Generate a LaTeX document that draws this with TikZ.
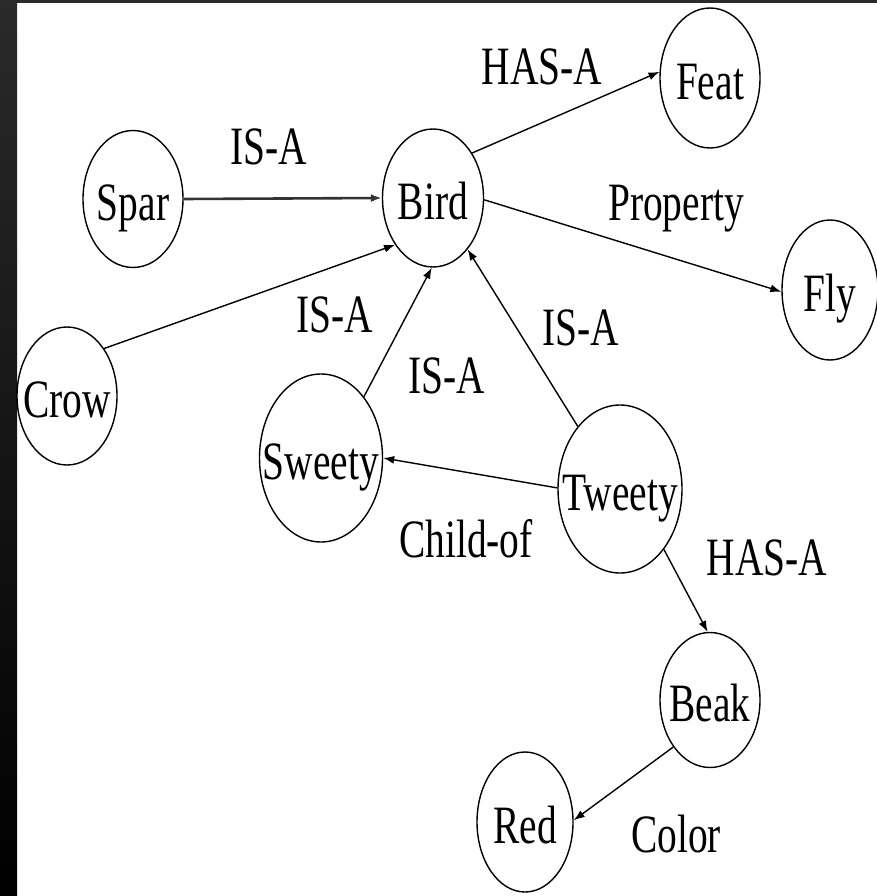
\documentclass[tikz,border=0pt]{standalone}
\usepackage{fontspec}
\usepackage{graphicx}
\setmainfont{Liberation Serif}
\usetikzlibrary{shapes.geometric,arrows.meta}
\newcommand\lbl[1]{\scalebox{0.73}[1]{#1}}
\newcommand\clbl[1]{\raisebox{-21.5pt}[0pt][0pt]{\makebox[0pt]{\scalebox{0.73}[1]{#1}}}}
\definecolor{framedark}{RGB}{42,42,42}
\tikzset{
  concept/.style={draw=black, line width=1.4pt, ellipse, inner sep=0pt,
    font=\fontsize{54}{54}\selectfont},
  rel/.style={draw=black, line width=1.4pt, -{Latex[length=11pt,width=8pt]}},
  rellabel/.style={font=\fontsize{54}{54}\selectfont, inner sep=0pt, anchor=base},
}
\begin{document}
\begin{tikzpicture}[x=1pt,y=-1pt]
\useasboundingbox (0,0) rectangle (877,896);
\fill[white] (0,0) rectangle (877,896);
\shade[top color=framedark, bottom color=black] (0,0) rectangle (17,896);
\fill[framedark] (0,0) rectangle (877,3);

\node[concept, minimum width=100pt, minimum height=137pt] (spar) at (133,199) {\clbl{Spar}};
\node[concept, minimum width=101pt, minimum height=138pt] (bird) at (433,198) {\clbl{Bird}};
\node[concept, minimum width=100pt, minimum height=140pt] (feat) at (710,78) {\clbl{Feat}};
\node[concept, minimum width=96pt, minimum height=140pt] (fly) at (830,290) {\clbl{Fly}};
\node[concept, minimum width=100pt, minimum height=138pt] (crow) at (67,396) {\clbl{Crow}};
\node[concept, minimum width=123pt, minimum height=168pt] (sweety) at (321,458) {\clbl{Sweety}};
\node[concept, minimum width=124pt, minimum height=168pt] (tweety) at (620,489) {\clbl{Tweety}};
\node[concept, minimum width=100pt, minimum height=135pt] (beak) at (710,700) {\clbl{Beak}};
\node[concept, minimum width=96pt, minimum height=140pt] (red) at (525,822) {\clbl{Red}};

\draw[rel, line width=2.6pt, draw=black!80] (spar.0) -- (bird.180);
\draw[rel] (crow.52) -- (bird.231);
\draw[rel] (sweety.55) -- (bird.269);
\draw[rel] (tweety.124) -- (bird.304);
\draw[rel] (tweety.179) -- (sweety.0);
\draw[rel] (tweety.306) -- (beak.92);
\draw[rel] (beak.232) -- (red.2);
\draw[rel] (bird.49) -- (feat.173);
\draw[rel] (bird.358) -- (fly.182);

\node[rellabel] (l1) at (269,165) {\lbl{IS-A}};
\node[rellabel] (l2) at (542,85) {\lbl{HAS-A}};
\node[rellabel] (l3) at (676,220) {\lbl{Property}};
\node[rellabel] (l4) at (335,332) {\lbl{IS-A}};
\node[rellabel] (l5) at (447,393) {\lbl{IS-A}};
\node[rellabel] (l6) at (581,345) {\lbl{IS-A}};
\node[rellabel] (l7) at (466,557) {\lbl{Child-of}};
\node[rellabel] (l8) at (767,575) {\lbl{HAS-A}};
\node[rellabel] (l9) at (676,852) {\lbl{Color}};
\end{tikzpicture}
\end{document}
